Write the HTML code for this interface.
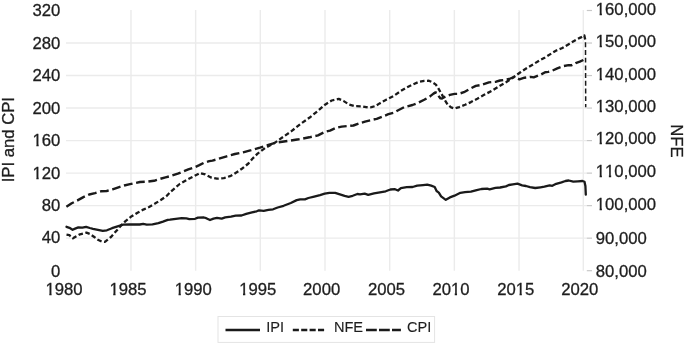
<!DOCTYPE html>
<html><head><meta charset="utf-8">
<style>
html,body{margin:0;padding:0;background:#fff;}
svg{display:block;will-change:transform;filter:blur(0.35px);}
text{font-family:"Liberation Sans",sans-serif;font-size:16.7px;fill:#1e1e1e;stroke:#1e1e1e;stroke-width:0.3px;font-kerning:none;}
</style></head>
<body>
<svg width="685" height="343" viewBox="0 0 685 343">
<rect width="685" height="343" fill="#fff"/>
<line x1="66" y1="238.17" x2="586.8" y2="238.17" stroke="#ebebeb" stroke-width="1.4"/>
<line x1="66" y1="205.65" x2="586.8" y2="205.65" stroke="#ebebeb" stroke-width="1.4"/>
<line x1="66" y1="173.12" x2="586.8" y2="173.12" stroke="#ebebeb" stroke-width="1.4"/>
<line x1="66" y1="140.60" x2="586.8" y2="140.60" stroke="#ebebeb" stroke-width="1.4"/>
<line x1="66" y1="108.07" x2="586.8" y2="108.07" stroke="#ebebeb" stroke-width="1.4"/>
<line x1="66" y1="75.55" x2="586.8" y2="75.55" stroke="#ebebeb" stroke-width="1.4"/>
<line x1="66" y1="43.03" x2="586.8" y2="43.03" stroke="#ebebeb" stroke-width="1.4"/>
<line x1="130.97" y1="10" x2="130.97" y2="270.8" stroke="#ebebeb" stroke-width="1.4"/>
<line x1="195.65" y1="10" x2="195.65" y2="270.8" stroke="#ebebeb" stroke-width="1.4"/>
<line x1="260.32" y1="10" x2="260.32" y2="270.8" stroke="#ebebeb" stroke-width="1.4"/>
<line x1="325.00" y1="10" x2="325.00" y2="270.8" stroke="#ebebeb" stroke-width="1.4"/>
<line x1="389.68" y1="10" x2="389.68" y2="270.8" stroke="#ebebeb" stroke-width="1.4"/>
<line x1="454.35" y1="10" x2="454.35" y2="270.8" stroke="#ebebeb" stroke-width="1.4"/>
<line x1="519.02" y1="10" x2="519.02" y2="270.8" stroke="#ebebeb" stroke-width="1.4"/>
<line x1="583.30" y1="10" x2="583.30" y2="270.8" stroke="#ebebeb" stroke-width="1.4"/>
<line x1="586.8" y1="270.70" x2="592" y2="270.70" stroke="#c8c8c8" stroke-width="1.2"/>
<line x1="586.8" y1="238.17" x2="592" y2="238.17" stroke="#c8c8c8" stroke-width="1.2"/>
<line x1="586.8" y1="205.65" x2="592" y2="205.65" stroke="#c8c8c8" stroke-width="1.2"/>
<line x1="586.8" y1="173.12" x2="592" y2="173.12" stroke="#c8c8c8" stroke-width="1.2"/>
<line x1="586.8" y1="140.60" x2="592" y2="140.60" stroke="#c8c8c8" stroke-width="1.2"/>
<line x1="586.8" y1="108.07" x2="592" y2="108.07" stroke="#c8c8c8" stroke-width="1.2"/>
<line x1="586.8" y1="75.55" x2="592" y2="75.55" stroke="#c8c8c8" stroke-width="1.2"/>
<line x1="586.8" y1="43.03" x2="592" y2="43.03" stroke="#c8c8c8" stroke-width="1.2"/>
<line x1="586.8" y1="10.50" x2="592" y2="10.50" stroke="#c8c8c8" stroke-width="1.2"/>
<text x="60.4" y="277" text-anchor="end">0</text>
<text x="60.4" y="243" text-anchor="end">40</text>
<text x="60.4" y="211" text-anchor="end">80</text>
<text x="60.4" y="179" text-anchor="end">120</text>
<text x="60.4" y="146" text-anchor="end">160</text>
<text x="60.4" y="114" text-anchor="end">200</text>
<text x="60.4" y="81" text-anchor="end">240</text>
<text x="60.4" y="49" text-anchor="end">280</text>
<text x="60.4" y="16" text-anchor="end">320</text>
<text x="595.8" y="277">80,000</text>
<text x="595.8" y="244">90,000</text>
<text x="595.8" y="210">100,000</text>
<text x="595.8" y="177">110,000</text>
<text x="595.8" y="144">120,000</text>
<text x="595.8" y="112">130,000</text>
<text x="595.8" y="80">140,000</text>
<text x="595.8" y="47">150,000</text>
<text x="595.8" y="15">160,000</text>
<text x="64.05" y="295" text-anchor="middle">1980</text>
<text x="128.00" y="295" text-anchor="middle">1985</text>
<text x="193.30" y="295" text-anchor="middle">1990</text>
<text x="257.75" y="295" text-anchor="middle">1995</text>
<text x="321.65" y="295" text-anchor="middle">2000</text>
<text x="386.50" y="295" text-anchor="middle">2005</text>
<text x="450.95" y="295" text-anchor="middle">2010</text>
<text x="515.75" y="295" text-anchor="middle">2015</text>
<text x="579.75" y="295" text-anchor="middle">2020</text>
<text transform="translate(14.2,139.7) rotate(-90)" text-anchor="middle">IPI and CPI</text>
<text transform="translate(671,141) rotate(90)" text-anchor="middle">NFE</text>
<polyline points="66.4,206.8 71.7,203.3 77.5,200.4 83.4,197.1 89.2,194.5 95.0,193.1 100.9,191.3 106.7,191.0 112.6,189.3 118.4,187.3 124.2,185.5 130.0,184.2 140.0,182.0 147.0,181.7 154.0,180.8 158.5,179.3 165.5,177.3 170.8,176.0 177.8,173.7 182.2,171.9 188.3,169.4 193.5,167.7 198.8,165.4 204.0,162.8 209.3,161.1 212.4,160.6 217.4,159.2 226.7,156.3 234.9,154.0 243.1,152.3 251.2,150.2 260.0,147.6 265.5,145.8 276.0,142.6 288.3,140.9 298.8,139.3 309.3,137.3 318.0,135.4 325.0,131.8" fill="none" stroke="#1a1a1a" stroke-width="2.4" stroke-dasharray="8.745 3.661" stroke-linejoin="round"/>
<polyline points="583.4,60.0 579.8,61.7 575.7,63.1 571.6,65.3 568.6,65.1 563.5,66.1 557.3,68.4 552.2,70.7 548.2,71.9 545.1,72.2 541.0,74.5 538.8,75.4 533.7,77.4 530.6,76.9 524.5,77.7 519.4,79.3 514.3,76.9 509.2,79.0 504.1,80.0 500.0,80.5 496.2,81.7 488.9,82.4 481.7,84.9 475.8,85.9 469.7,88.9 463.9,92.2 458.6,93.9 454.6,93.9 449.9,94.9 446.4,96.2 444.0,97.3 442.0,98.5 440.5,98.4 439.0,96.5 437.3,93.2 435.5,92.4 433.5,93.6 430.0,96.4 424.2,99.8 418.4,102.7 412.5,105.0 404.3,107.1 397.7,110.5 394.2,112.6 388.4,114.2 382.6,116.6 376.7,118.9 370.9,120.1 365.0,121.6 359.2,123.4 353.4,125.5 348.7,125.9 341.7,126.6 335.8,128.0 330.0,130.6 325.0,131.8" fill="none" stroke="#1a1a1a" stroke-width="2.4" stroke-dasharray="8.573 3.589" stroke-linejoin="round"/>
<polyline points="66.5,234.7 69.4,235.2 73.0,238.3 75.9,236.6 80.0,234.3 83.2,233.5 86.5,232.7 89.8,233.9 93.9,236.8 97.9,239.7 102.0,241.7 104.5,241.9 106.1,240.9 111.0,237.0 114.0,233.5 117.2,229.9 121.9,224.6 125.8,220.9 131.7,216.2 137.5,212.7 143.3,209.6 149.1,207.0 155.0,203.6 160.8,200.0 166.6,196.0 170.4,192.0 179.7,184.0 187.9,179.3 194.7,175.8 200.0,173.0 205.2,174.4 211.0,177.5 216.9,178.7 223.9,178.1 230.9,175.8 236.7,172.3 242.6,168.2 248.4,163.5 252.4,158.8 257.6,153.6 265.5,147.7 274.3,143.1 283.0,137.0 291.8,130.9 300.5,123.9 309.3,117.8 318.0,110.8" fill="none" stroke="#1a1a1a" stroke-width="2.3" stroke-dasharray="4.589 2.494" stroke-linejoin="round"/>
<polyline points="585.2,39.6 584.3,35.3 580.8,37.4 576.4,39.6 569.1,43.9 561.8,48.3 556.3,50.5 551.2,53.6 545.1,57.5 540.4,59.9 533.7,64.0 526.5,68.3 520.4,72.3 513.5,77.3 506.4,82.0 499.1,86.3 491.9,90.7 484.6,94.6 477.3,98.7 470.9,102.1 465.1,104.8 459.2,107.1 454.6,108.5 451.1,107.4 447.6,104.5 445.2,100.6 442.9,96.3 440.5,92.2 438.2,88.1 435.9,84.6 432.4,82.3 428.9,80.7 424.2,80.9 418.4,82.0 412.5,84.6 406.7,87.5 400.8,91.0 393.6,96.0 386.6,99.5 383.0,101.4 379.6,103.4 375.5,106.0 371.5,107.2 367.9,107.5 362.0,106.3 355.0,106.2 349.2,104.6 343.4,100.9 338.7,98.9 331.7,100.5 325.4,104.4 318.0,110.8" fill="none" stroke="#1a1a1a" stroke-width="2.3" stroke-dasharray="4.569 2.483" stroke-linejoin="round"/>
<polyline points="585.5,42.3 585.7,107.2" fill="none" stroke="#1a1a1a" stroke-width="1.5" stroke-dasharray="4.9 2.8"/>
<polyline points="66.5,226.8 69.4,227.8 72.6,229.8 75.1,228.6 78.3,227.4 82.4,227.6 86.1,226.8 89.8,228.0 93.0,228.8 97.9,229.8 102.8,230.9 106.9,230.3 112.0,228.2 118.4,226.1 123.1,224.6 130.0,224.4 135.0,224.5 139.7,224.5 143.2,223.9 146.7,224.6 152.5,224.4 158.4,223.1 163.0,221.6 167.7,219.9 170.0,219.7 175.8,218.8 181.7,218.2 186.4,218.4 189.3,219.1 195.1,218.8 198.0,217.6 203.9,217.5 206.2,218.2 210.0,220.0 213.5,218.6 217.0,217.8 221.7,218.6 225.2,217.4 231.0,216.6 235.7,215.7 241.5,215.5 246.2,213.9 252.0,212.4 256.7,211.3 259.0,210.4 263.7,210.8 268.4,209.9 273.1,209.3 277.7,207.5 283.6,205.8 290.8,203.0 296.7,200.1 300.2,199.3 304.9,199.3 308.4,198.0 314.2,196.6 320.0,195.1 324.7,193.7 329.4,192.8 335.2,192.9 339.9,194.3 344.6,195.8 348.6,196.8 352.7,195.8 357.4,194.0 360.0,194.3 364.7,193.6 368.2,194.8 374.0,193.4 379.9,192.4 385.7,191.3 390.4,189.5 395.0,189.2 398.0,190.5 400.9,188.1 406.7,187.2 412.6,187.0 417.2,185.7 423.1,185.1 427.2,184.6 431.2,185.6 434.7,187.0 436.6,191.0 438.8,192.6 441.1,196.3 445.8,199.8 449.9,197.4 454.5,195.7 460.4,192.8 465.0,192.2 470.9,191.6 476.7,190.1 481.4,189.0 487.2,188.7 489.6,189.3 495.4,187.8 500.1,187.5 505.9,186.4 508.9,185.0 512.9,184.4 517.5,183.7 522.1,185.4 526.0,186.0 530.0,187.1 535.2,188.0 540.5,187.3 544.4,186.7 549.7,185.4 552.3,185.8 556.2,183.8 561.5,182.3 565.4,181.0 568.7,180.5 573.3,181.7 577.9,181.4 582.5,181.0 584.5,181.8 585.4,186.0 585.8,194.6" fill="none" stroke="#1a1a1a" stroke-width="2.3" stroke-linejoin="round" stroke-linecap="round"/>
<rect x="218" y="316.5" width="216.6" height="25.9" fill="#fff" stroke="#e4e4e4" stroke-width="1"/>
<line x1="225.5" y1="330" x2="260" y2="330" stroke="#1a1a1a" stroke-width="2.3"/>
<line x1="292.8" y1="330" x2="324.2" y2="330" stroke="#1a1a1a" stroke-width="2.3" stroke-dasharray="6.1 2.3"/>
<line x1="366" y1="330" x2="400.9" y2="330" stroke="#1a1a1a" stroke-width="2.3" stroke-dasharray="10.8 2.2"/>
<text x="266.2" y="331.7" style="font-size:14.6px;stroke-width:0.12px">IPI</text>
<text x="333.9" y="331.7" style="font-size:14.6px;stroke-width:0.12px">NFE</text>
<text x="407.0" y="331.7" style="font-size:14.6px;stroke-width:0.12px">CPI</text>
<rect x="33" y="177" width="3.36" height="3" fill="#fff"/>
<rect x="38.66" y="177" width="3.34" height="3" fill="#fff"/>
<rect x="33" y="144" width="3.36" height="3" fill="#fff"/>
<rect x="38.66" y="144" width="3.34" height="3" fill="#fff"/>
<rect x="596" y="208" width="3.60" height="3" fill="#fff"/>
<rect x="601.90" y="208" width="3.10" height="3" fill="#fff"/>
<rect x="596" y="175" width="3.60" height="3" fill="#fff"/>
<rect x="601.90" y="175" width="3.10" height="3" fill="#fff"/>
<rect x="605" y="175" width="3.87" height="3" fill="#fff"/>
<rect x="611.17" y="175" width="3.83" height="3" fill="#fff"/>
<rect x="596" y="142" width="3.60" height="3" fill="#fff"/>
<rect x="601.90" y="142" width="3.10" height="3" fill="#fff"/>
<rect x="596" y="110" width="3.60" height="3" fill="#fff"/>
<rect x="601.90" y="110" width="3.10" height="3" fill="#fff"/>
<rect x="596" y="78" width="3.60" height="3" fill="#fff"/>
<rect x="601.90" y="78" width="3.10" height="3" fill="#fff"/>
<rect x="596" y="45" width="3.60" height="3" fill="#fff"/>
<rect x="601.90" y="45" width="3.10" height="3" fill="#fff"/>
<rect x="596" y="13" width="3.60" height="3" fill="#fff"/>
<rect x="601.90" y="13" width="3.10" height="3" fill="#fff"/>
<rect x="46" y="293" width="3.29" height="3" fill="#fff"/>
<rect x="51.59" y="293" width="3.41" height="3" fill="#fff"/>
<rect x="110" y="293" width="3.24" height="3" fill="#fff"/>
<rect x="115.54" y="293" width="3.46" height="3" fill="#fff"/>
<rect x="175" y="293" width="3.54" height="3" fill="#fff"/>
<rect x="180.84" y="293" width="3.16" height="3" fill="#fff"/>
<rect x="239" y="293" width="3.99" height="3" fill="#fff"/>
<rect x="245.29" y="293" width="3.71" height="3" fill="#fff"/>
<rect x="451" y="293" width="3.73" height="3" fill="#fff"/>
<rect x="457.03" y="293" width="2.97" height="3" fill="#fff"/>
<rect x="516" y="293" width="3.53" height="3" fill="#fff"/>
<rect x="521.83" y="293" width="3.17" height="3" fill="#fff"/>
</svg>
</body></html>
